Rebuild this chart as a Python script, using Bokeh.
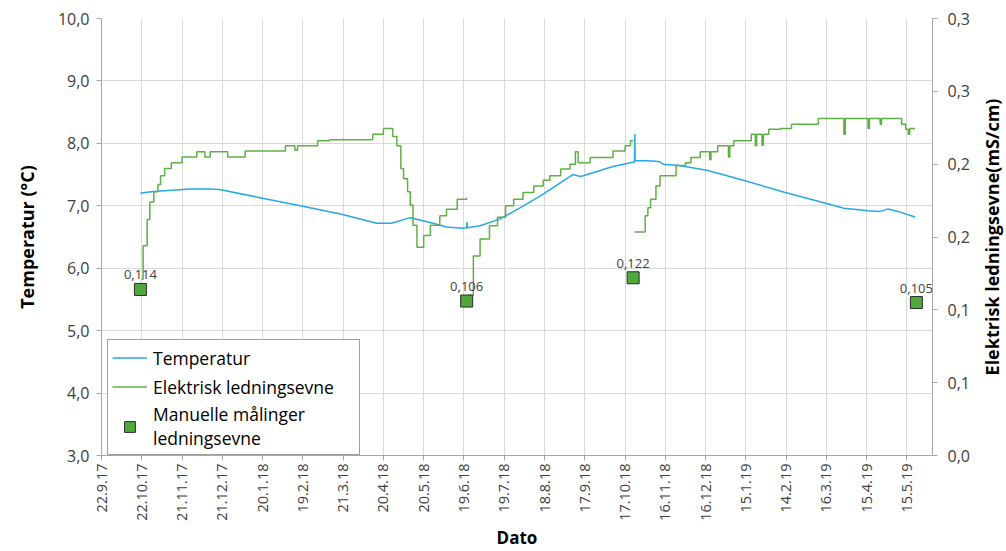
import math
import pandas as pd
from bokeh.plotting import figure
from bokeh.layouts import row
from bokeh.core.properties import value
from bokeh.models import (Range1d, LinearAxis, FixedTicker, Legend, LegendItem,
                          ColumnDataSource, LabelSet)
from bokeh.embed import file_html
from bokeh.resources import INLINE

# ---------------- data ----------------
x_tick_labels = ["22.9.17", "22.10.17", "21.11.17", "21.12.17", "20.1.18", "19.2.18",
                 "21.3.18", "20.4.18", "20.5.18", "19.6.18", "19.7.18", "18.8.18",
                 "17.9.18", "17.10.18", "16.11.18", "16.12.18", "15.1.19", "14.2.19",
                 "16.3.19", "15.4.19", "15.5.19"]
left_ticks = [3, 4, 5, 6, 7, 8, 9, 10]
left_tick_labels = ["3,0", "4,0", "5,0", "6,0", "7,0", "8,0", "9,0", "10,0"]
right_ticks = [0.0, 0.05, 0.1, 0.15, 0.2, 0.25, 0.3]
right_tick_labels = ["0,0", "0,1", "0,1", "0,2", "0,2", "0,3", "0,3"]

temp_dates = ["2017-10-21", "2017-10-23", "2017-10-31", "2017-11-27", "2017-12-10",
              "2017-12-19", "2018-01-18", "2018-02-17", "2018-03-19", "2018-04-15",
              "2018-04-26", "2018-05-10", "2018-05-27", "2018-06-06", "2018-06-18",
              "2018-06-21 00:00", "2018-06-21 06:00", "2018-06-21 12:00", "2018-07-01",
              "2018-07-16", "2018-07-31", "2018-08-15", "2018-08-30", "2018-09-08",
              "2018-09-14", "2018-09-26", "2018-10-08", "2018-10-21", "2018-10-24 00:00",
              "2018-10-24 06:00", "2018-10-24 12:00", "2018-11-03", "2018-11-11",
              "2018-11-15", "2018-11-25", "2018-12-17", "2019-01-13", "2019-02-12",
              "2019-03-14", "2019-03-29", "2019-04-16", "2019-04-25", "2019-05-01",
              "2019-05-08", "2019-05-21"]
temp_vals = [7.20, 7.21, 7.23, 7.27, 7.27,
             7.26, 7.13, 7.00, 6.87, 6.72,
             6.72, 6.81, 6.72, 6.66, 6.64,
             6.65, 6.74, 6.65, 6.68,
             6.79, 6.97, 7.16, 7.37, 7.50,
             7.47, 7.55, 7.63, 7.69, 7.70,
             8.15, 7.72, 7.72, 7.71,
             7.66, 7.65, 7.57, 7.41, 7.22,
             7.05, 6.96, 6.92, 6.91, 6.95,
             6.91, 6.82]

cond1_dates = ["2017-10-22", "2017-10-23", "2017-10-26", "2017-10-28", "2017-10-31",
               "2017-11-03", "2017-11-05", "2017-11-08", "2017-11-13", "2017-11-21",
               "2017-12-02", "2017-12-08", "2017-12-12", "2017-12-25", "2018-01-07",
               "2018-02-06", "2018-02-13", "2018-02-15", "2018-03-02", "2018-03-11",
               "2018-04-12", "2018-04-20", "2018-04-24", "2018-04-27", "2018-04-30",
               "2018-05-03", "2018-05-05", "2018-05-08", "2018-05-10", "2018-05-12",
               "2018-05-15", "2018-05-20", "2018-05-25", "2018-06-01", "2018-06-06",
               "2018-06-14", "2018-06-21"]
cond1_vals = [0.121, 0.144, 0.162, 0.174, 0.181,
              0.186, 0.192, 0.197, 0.201, 0.205,
              0.2085, 0.205, 0.2085, 0.205, 0.209,
              0.2126, 0.2095, 0.2126, 0.216, 0.2167,
              0.2205, 0.2245, 0.2245, 0.219, 0.2126,
              0.197, 0.19, 0.181, 0.172, 0.158,
              0.143, 0.151, 0.158, 0.1646, 0.169,
              0.176, 0.177]

cond2_dates = ["2018-06-22", "2018-06-26", "2018-07-01", "2018-07-08", "2018-07-14",
               "2018-07-20", "2018-07-26", "2018-08-02", "2018-08-10", "2018-08-17",
               "2018-08-22", "2018-08-30", "2018-09-06", "2018-09-10", "2018-09-12",
               "2018-09-21", "2018-10-08", "2018-10-17", "2018-10-21", "2018-10-23"]
cond2_vals = [0.110, 0.137, 0.1486, 0.1578, 0.1635,
              0.1715, 0.176, 0.1806, 0.185, 0.189,
              0.192, 0.1966, 0.200, 0.2085, 0.201,
              0.2046, 0.209, 0.2126, 0.216, 0.216]

cond3_dates = ["2018-10-24", "2018-10-28", "2018-11-01", "2018-11-03", "2018-11-05",
               "2018-11-09", "2018-11-12", "2018-11-24", "2018-12-01", "2018-12-05",
               "2018-12-12", "2018-12-19", "2018-12-20", "2018-12-25", "2019-01-02",
               "2019-01-03", "2019-01-06", "2019-01-19", "2019-01-22", "2019-01-23",
               "2019-01-27", "2019-01-28", "2019-02-01", "2019-02-10", "2019-02-18",
               "2019-03-10", "2019-03-29", "2019-03-30", "2019-04-16", "2019-04-17",
               "2019-04-25", "2019-04-26", "2019-05-08", "2019-05-11", "2019-05-14",
               "2019-05-16", "2019-05-17", "2019-05-21"]
cond3_vals = [0.1534, 0.1534, 0.1646, 0.170, 0.176,
              0.185, 0.192, 0.199, 0.201, 0.2046,
              0.2085, 0.203, 0.2085, 0.2126, 0.205,
              0.2126, 0.216, 0.2206, 0.2126, 0.2206,
              0.213, 0.2206, 0.224, 0.2245, 0.2274,
              0.2313, 0.2206, 0.2313, 0.2245, 0.2313,
              0.2274, 0.2313, 0.2313, 0.2274, 0.224,
              0.2206, 0.2245, 0.2245]

man_dates = ["2017-10-21", "2018-06-21", "2018-10-23", "2019-05-22"]
man_vals = [0.114, 0.106, 0.122, 0.105]
man_labels = ["0,114", "0,106", "0,122", "0,105"]

# ---------------- styling ----------------
FONT = "Open Sans"
BLUE = "#27a8e6"
GREEN = "#5fb044"
MARK = "#4ea93a"
GRID = "#d9d9d9"
AXIS = "#a6a6a6"
TXT = "#404040"

def dt(s):
    return pd.to_datetime(s, format="ISO8601")

tick_dt = pd.to_datetime(x_tick_labels, format="%d.%m.%y")
tick_ms = [float(t.value // 10**6) for t in tick_dt]

p = figure(x_axis_type="datetime", frame_width=831, frame_height=437,
           x_range=Range1d(dt("2017-09-22"), dt("2019-06-03")),
           y_range=Range1d(3, 10),
           output_backend="svg", toolbar_location=None,
           min_border_left=101, min_border_right=44, min_border_top=18,
           min_border_bottom=88)
p.outline_line_color = None
p.background_fill_color = "white"
p.border_fill_color = "white"

p.extra_y_ranges = {"cond": Range1d(0, 0.3)}

# x axis
xa = p.xaxis[0]
xa.ticker = FixedTicker(ticks=tick_ms)
xa.major_label_overrides = {ms: lab for ms, lab in zip(tick_ms, x_tick_labels)}
xa.major_label_orientation = math.pi / 2
xa.axis_label = "Dato"
xa.axis_label_text_font = FONT
xa.axis_label_text_font_style = "bold"
xa.axis_label_text_font_size = "17px"
xa.axis_label_text_color = "black"
xa.axis_label_standoff = 2
xa.major_label_text_font = FONT
xa.major_label_text_font_size = "14.5px"
xa.major_label_text_color = TXT
xa.major_label_standoff = 3
xa.axis_line_color = AXIS
xa.major_tick_line_color = AXIS
xa.major_tick_out = 5
xa.major_tick_in = 0
xa.minor_tick_line_color = None

# left axis
ya = p.yaxis[0]
ya.ticker = FixedTicker(ticks=left_ticks)
ya.major_label_overrides = {t: lab for t, lab in zip(left_ticks, left_tick_labels)}
ya.axis_label = "Temperatur (°C)"
ya.axis_label_text_font = FONT
ya.axis_label_text_font_style = "bold"
ya.axis_label_text_font_size = "18px"
ya.axis_label_text_color = "black"
ya.axis_label_standoff = 16
ya.major_label_text_font = FONT
ya.major_label_text_font_size = "16px"
ya.major_label_text_color = TXT
ya.major_label_standoff = 7
ya.axis_line_color = AXIS
ya.major_tick_line_color = AXIS
ya.major_tick_out = 5
ya.major_tick_in = 0
ya.minor_tick_line_color = None

# right axis (its title is drawn by a slim neighbour figure so it reads bottom-to-top)
ra = LinearAxis(y_range_name="cond", ticker=FixedTicker(ticks=right_ticks))
ra.major_label_overrides = {t: lab for t, lab in zip(right_ticks, right_tick_labels)}
ra.major_label_text_font = FONT
ra.major_label_text_font_size = "16px"
ra.major_label_text_color = TXT
ra.major_label_standoff = 10
ra.axis_line_color = AXIS
ra.major_tick_line_color = AXIS
ra.major_tick_out = 5
ra.major_tick_in = 0
ra.minor_tick_line_color = None
p.add_layout(ra, "right")

p.xgrid.grid_line_color = GRID
p.ygrid.grid_line_color = GRID

# lines
r_temp = p.line(dt(temp_dates), temp_vals, line_color=BLUE, line_width=1.5)
r_c1 = p.step(dt(cond1_dates), cond1_vals, mode="after",
              line_color=GREEN, line_width=1.5, y_range_name="cond")
p.step(dt(cond2_dates), cond2_vals, mode="after",
       line_color=GREEN, line_width=1.5, y_range_name="cond")
p.step(dt(cond3_dates), cond3_vals, mode="after",
       line_color=GREEN, line_width=1.5, y_range_name="cond")

src = ColumnDataSource(dict(x=dt(man_dates), y=man_vals, lab=man_labels))
r_man = p.scatter("x", "y", source=src, marker="square", size=12,
                  fill_color=MARK, line_color="#2b2b2b", line_width=1,
                  y_range_name="cond")
labels = LabelSet(x="x", y="y", text="lab", source=src, y_range_name="cond",
                  text_align="center", text_baseline="bottom", y_offset=10,
                  text_font=value(FONT), text_font_size=value("13px"),
                  text_color=value(TXT))
p.add_layout(labels)

legend = Legend(items=[
    LegendItem(label="Temperatur", renderers=[r_temp]),
    LegendItem(label="Elektrisk ledningsevne", renderers=[r_c1]),
    LegendItem(label="Manuelle målinger\nledningsevne", renderers=[r_man]),
], location=(6, 0), orientation="vertical")
legend.label_text_font = FONT
legend.label_text_font_size = "17.5px"
legend.label_text_color = "black"
legend.glyph_width = 35
legend.glyph_height = 27
legend.label_height = 18
legend.label_width = 202
legend.spacing = 2
legend.padding = 4
legend.margin = 0
legend.label_standoff = 6
legend.border_line_color = "#404040"
legend.border_line_width = 1
legend.background_fill_color = "white"
legend.background_fill_alpha = 1
p.add_layout(legend, "center")

# slim neighbour figure carrying the right-hand axis title
p2 = figure(frame_width=2, frame_height=437, output_backend="svg",
            toolbar_location=None, x_range=Range1d(0, 1), y_range=Range1d(0, 1),
            min_border_left=0, min_border_right=0, min_border_top=18,
            min_border_bottom=88)
p2.outline_line_color = None
p2.xaxis.visible = False
p2.grid.visible = False
ta = p2.yaxis[0]
ta.ticker = FixedTicker(ticks=[])
ta.axis_label = "Elektrisk ledningsevne(mS/cm)"
ta.axis_label_text_font = FONT
ta.axis_label_text_font_style = "bold"
ta.axis_label_text_font_size = "18px"
ta.axis_label_text_color = "black"
ta.axis_label_standoff = 0
ta.major_label_standoff = 0
ta.major_tick_out = 0
ta.major_tick_in = 0
ta.minor_tick_out = 0
ta.minor_tick_in = 0
ta.major_tick_line_color = None
ta.minor_tick_line_color = None
ta.axis_line_color = None

layout = row(p, p2)
open("out.html", "w").write(file_html(layout, INLINE))
